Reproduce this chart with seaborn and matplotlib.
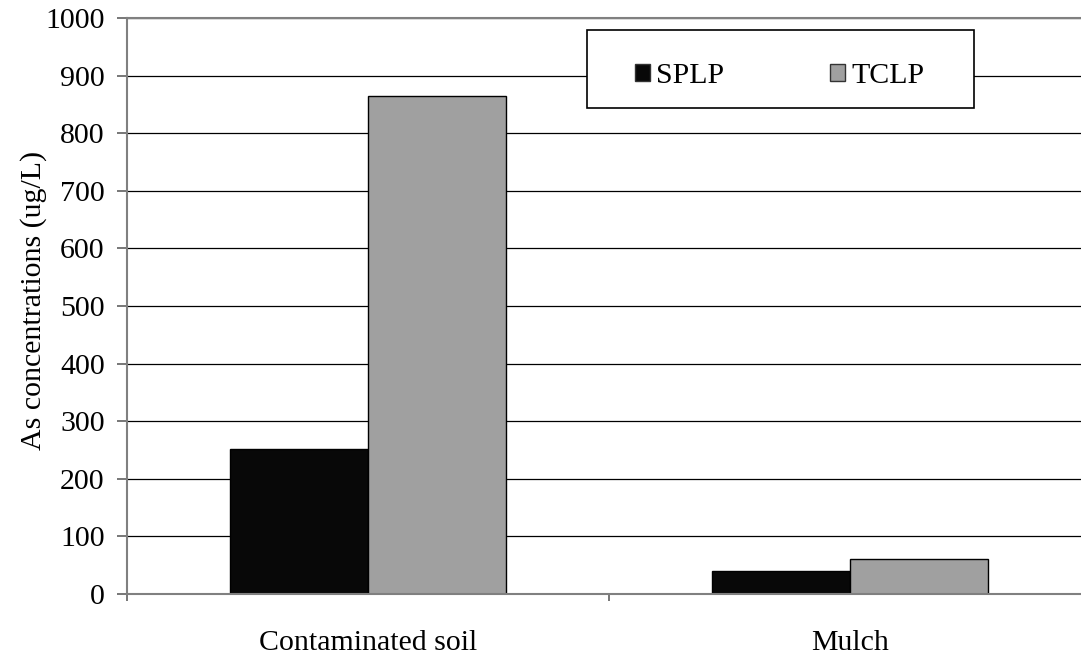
import matplotlib
matplotlib.use("Agg")
import matplotlib.pyplot as plt
from matplotlib.patches import Patch, Rectangle
import seaborn as sns
import pandas as pd

categories = ["Contaminated soil", "Mulch"]
methods = ["SPLP", "TCLP"]
splp = [252, 40]
tclp = [865, 60]
colors = {"SPLP": "#080808", "TCLP": "#a0a0a0"}
yticks = list(range(0, 1001, 100))
ylabel = "As concentrations (ug/L)"

df = pd.DataFrame({
    "category": categories * 2,
    "method": ["SPLP"] * len(categories) + ["TCLP"] * len(categories),
    "value": splp + tclp,
})

sns.set_style("white")
plt.rcParams["font.family"] = ["Liberation Serif", "DejaVu Serif"]
plt.rcParams["text.color"] = "black"
plt.rcParams["xtick.labelcolor"] = "black"
plt.rcParams["ytick.labelcolor"] = "black"
plt.rcParams["axes.labelcolor"] = "black"

FS = 21.5
W, H = 1081, 660
fig = plt.figure(figsize=(W / 100, H / 100), dpi=100)
left, right, top, bottom = 127, 1091, 18, 594
ax = fig.add_axes([left / W, 1 - bottom / H, (right - left) / W, (bottom - top) / H])

sns.barplot(data=df, x="category", y="value", hue="method", order=categories,
            hue_order=methods, palette=colors, width=0.573, dodge=True,
            edgecolor="black", linewidth=1, saturation=1, ax=ax, legend=False)

ax.set_xlim(-0.5, 1.5)
ax.set_ylim(0, 1000)
ax.set_yticks(yticks)
ax.set_axisbelow(True)
ax.yaxis.grid(True, color="black", linewidth=0.9)
ax.xaxis.grid(False)

for s in ["left", "bottom", "top"]:
    ax.spines[s].set_visible(True)
    ax.spines[s].set_color("#808080")
    ax.spines[s].set_linewidth(1.5)
ax.spines["right"].set_visible(False)

ax.tick_params(axis="y", which="major", direction="out", length=7, width=1.2,
               color="#606060", labelsize=FS, pad=9, left=True, labelcolor="black")
ax.set_xticks(range(len(categories)))
ax.set_xticklabels(categories)
ax.set_xticks([-0.5, 0.5, 1.5], minor=True)
ax.tick_params(axis="x", which="major", length=0, labelsize=FS, pad=26, labelcolor="black")
ax.tick_params(axis="x", which="minor", direction="out", length=5, width=1.2,
               color="#606060", bottom=True)

ax.set_xlabel("")
ax.set_ylabel(ylabel, fontsize=FS, color="black")
ax.yaxis.set_label_coords(-0.083, 0.51)

# legend frame and entries
x0 = (587 - left) / (right - left)
x1 = (974 - left) / (right - left)
y1 = (bottom - 30) / (bottom - top)
y0 = (bottom - 108) / (bottom - top)
ax.add_patch(Rectangle((x0, y0), x1 - x0, y1 - y0, transform=ax.transAxes,
                       facecolor="white", edgecolor="black", linewidth=1.2,
                       zorder=5, clip_on=False))
handles = [Patch(facecolor=colors[m], edgecolor="#333333", label=m) for m in methods]
leg = ax.legend(handles=handles, loc="center",
                bbox_to_anchor=((x0 + x1) / 2 - 0.001, (y0 + y1) / 2 - 0.012),
                ncol=2, frameon=False, fontsize=FS, handlelength=0.5,
                handleheight=0.5, handletextpad=0.2, columnspacing=3.55)
for t in leg.get_texts():
    t.set_color("black")
leg.set_zorder(6)

fig.savefig("out.png", dpi=100)
